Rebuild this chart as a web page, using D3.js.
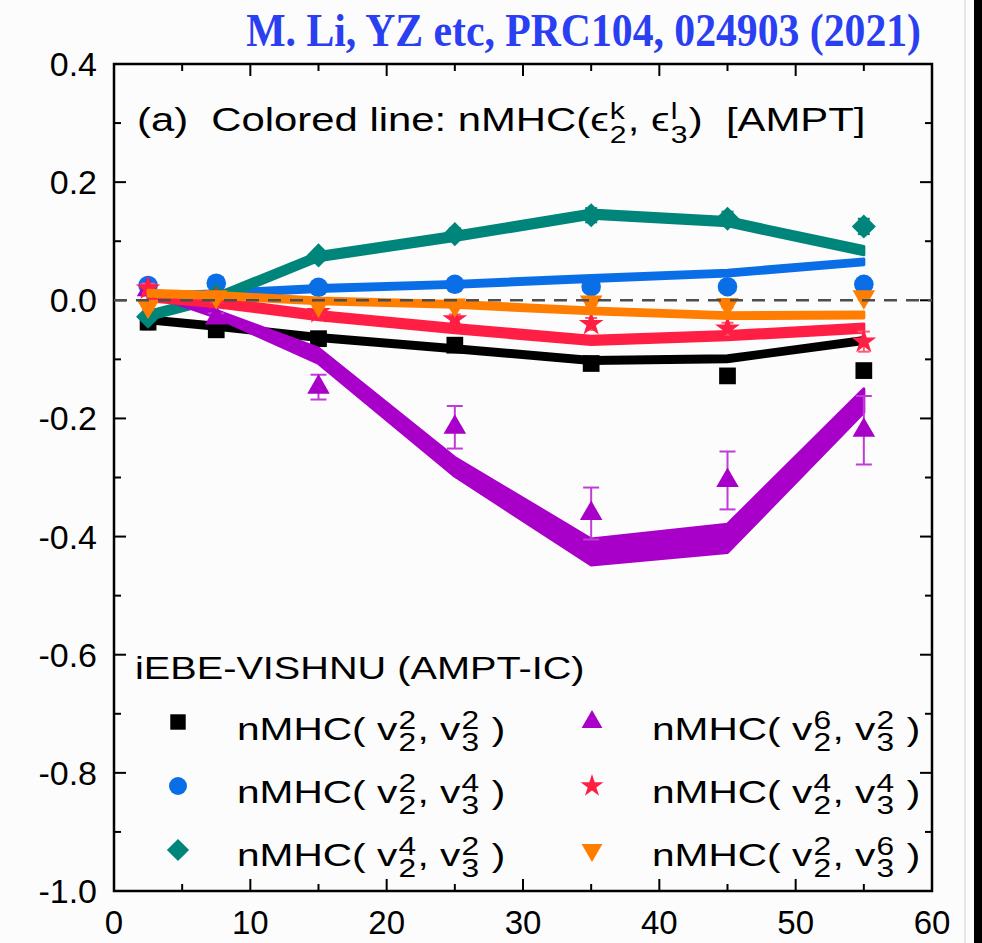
<!DOCTYPE html>
<html>
<head>
<meta charset="utf-8">
<script src="https://cdn.jsdelivr.net/npm/d3@7"></script>
<style>
  body { margin: 0; background: #fcfcfc; }
  text { font-family: "Liberation Sans", Arial, sans-serif; fill: #000; white-space: pre; }
</style>
</head>
<body>
<div id="chart"></div>
<script>
// centrality bins (%)
const centrality = [2.5, 7.5, 15, 25, 35, 45, 55];
const xTickLabels = [0, 10, 20, 30, 40, 50, 60];
const yTickLabels = [0.4, 0.2, 0.0, -0.2, -0.4, -0.6, -0.8, -1.0];

// iEBE-VISHNU points (markers) and errors
const k2l2Pts = [-0.037, -0.05, -0.065, -0.076, -0.107, -0.128, -0.119];
const k2l2Err = [0.012, 0.008, 0.006, 0.006, 0.008, 0.007, 0.006];
const k2l4Pts = [0.025, 0.029, 0.022, 0.027, 0.023, 0.023, 0.027];
const k2l4Err = [0.006, 0.005, 0.005, 0.005, 0.005, 0.005, 0.005];
const k4l2Pts = [-0.028, 0.008, 0.076, 0.112, 0.144, 0.138, 0.125];
const k4l2Err = [0.006, 0.005, 0.008, 0.01, 0.012, 0.012, 0.013];
const k6l2Pts = [0.018, -0.03, -0.147, -0.215, -0.361, -0.305, -0.22];
const k6l2Err = [0.01, 0.008, 0.021, 0.036, 0.044, 0.049, 0.058];
const k4l4Pts = [0.02, 0.002, -0.02, -0.032, -0.04, -0.048, -0.07];
const k4l4Err = [0.008, 0.006, 0.006, 0.008, 0.01, 0.01, 0.017];
const k2l6Pts = [-0.01, 0.006, -0.008, -0.008, -0.003, -0.007, 0.006];
const k2l6Err = [0.006, 0.005, 0.005, 0.005, 0.005, 0.005, 0.005];

// AMPT nMHC(eps2^k, eps3^l) bands (lower, upper)
const k2l2Lo = [-0.038, -0.049, -0.068, -0.087, -0.107, -0.104, -0.073];
const k2l2Hi = [-0.028, -0.039, -0.058, -0.077, -0.097, -0.094, -0.063];
const k2l4Lo = [0.001, 0.006, 0.015, 0.022, 0.032, 0.041, 0.06];
const k2l4Hi = [0.011, 0.016, 0.025, 0.032, 0.042, 0.051, 0.07];
const k4l2Lo = [-0.033, -0.003, 0.067, 0.101, 0.139, 0.126, 0.077];
const k4l2Hi = [-0.019, 0.011, 0.081, 0.115, 0.153, 0.14, 0.091];
const k6l2Lo = [0.011, -0.029, -0.107, -0.298, -0.448, -0.427, -0.19];
const k6l2Hi = [0.019, -0.017, -0.081, -0.266, -0.404, -0.379, -0.15];
const k4l4Lo = [-0.001, -0.011, -0.033, -0.055, -0.075, -0.067, -0.054];
const k4l4Hi = [0.013, 0.003, -0.019, -0.041, -0.061, -0.053, -0.04];
const k2l6Lo = [0.007, 0.003, -0.006, -0.012, -0.023, -0.031, -0.03];
const k2l6Hi = [0.017, 0.013, 0.004, -0.002, -0.013, -0.021, -0.02];

const series = [
  { k: 2, l: 2, pts: k2l2Pts, err: k2l2Err, lo: k2l2Lo, hi: k2l2Hi, color: "#000000", bar: "#000000", shape: "square", col: 0, row: 0 },
  { k: 2, l: 4, pts: k2l4Pts, err: k2l4Err, lo: k2l4Lo, hi: k2l4Hi, color: "#0a6ee6", bar: "#0a6ee6", shape: "circle", col: 0, row: 1 },
  { k: 4, l: 2, pts: k4l2Pts, err: k4l2Err, lo: k4l2Lo, hi: k4l2Hi, color: "#00857a", bar: "#00857a", shape: "diamond", col: 0, row: 2 },
  { k: 6, l: 2, pts: k6l2Pts, err: k6l2Err, lo: k6l2Lo, hi: k6l2Hi, color: "#a800c8", bar: "#c13bd8", shape: "triangle", col: 1, row: 0 },
  { k: 4, l: 4, pts: k4l4Pts, err: k4l4Err, lo: k4l4Lo, hi: k4l4Hi, color: "#ff1f44", bar: "#ff5a72", shape: "star", col: 1, row: 1 },
  { k: 2, l: 6, pts: k2l6Pts, err: k2l6Err, lo: k2l6Lo, hi: k2l6Hi, color: "#ff7d00", bar: "#ff7d00", shape: "down", col: 1, row: 2 },
];

const width = 982;
const height = 943;
const frame = { left: 114, right: 932, top: 64, bottom: 891 };

const xScale = d3.scaleLinear().domain([0, 60]).range([frame.left, frame.right]);
const yScale = d3.scaleLinear().domain([-1.0, 0.4]).range([frame.bottom, frame.top]);

const svg = d3
  .select("#chart")
  .append("svg")
  .attr("width", width)
  .attr("height", height);

svg.append("rect").attr("width", width).attr("height", height).attr("fill", "#fcfcfc");
// right edge of the screenshot
svg.append("line").attr("x1", 965).attr("x2", 965).attr("y1", 0).attr("y2", height)
  .attr("stroke", "#d0d0d0").attr("stroke-width", 1);
svg.append("rect").attr("x", 974).attr("y", 0).attr("width", 8).attr("height", height).attr("fill", "#000");

const symbolFor = (shape, big) => {
  const s = big ? 1 : 0.85;
  if (shape === "square") return { type: d3.symbolSquare, size: 280 * s, rot: 0 };
  if (shape === "circle") return { type: d3.symbolCircle, size: 300 * s, rot: 0 };
  if (shape === "diamond") return { type: d3.symbolSquare, size: 290 * s, rot: 45 };
  if (shape === "triangle") return { type: d3.symbolTriangle, size: 220 * s, rot: 0 };
  if (shape === "star") return { type: d3.symbolStar, size: 190 * s, rot: 0 };
  return { type: d3.symbolTriangle, size: 220 * s, rot: 180 };
};

const drawAxes = () => {
  const g = svg.append("g");
  const minorX = d3.range(0, 61, 5);
  const minorY = d3.range(-10, 5).map((d) => d / 10);
  minorX.forEach((v) => {
    const len = v % 10 === 0 ? 12 : 7;
    g.append("line").attr("x1", xScale(v)).attr("x2", xScale(v))
      .attr("y1", frame.bottom).attr("y2", frame.bottom - len);
    g.append("line").attr("x1", xScale(v)).attr("x2", xScale(v))
      .attr("y1", frame.top).attr("y2", frame.top + len);
  });
  minorY.forEach((v) => {
    const len = Math.round(v * 10) % 2 === 0 ? 12 : 7;
    g.append("line").attr("x1", frame.left).attr("x2", frame.left + len)
      .attr("y1", yScale(v)).attr("y2", yScale(v));
    g.append("line").attr("x1", frame.right).attr("x2", frame.right - len)
      .attr("y1", yScale(v)).attr("y2", yScale(v));
  });
  g.selectAll("line").attr("stroke", "#000").attr("stroke-width", 2);
  g.append("rect")
    .attr("x", frame.left).attr("y", frame.top)
    .attr("width", frame.right - frame.left).attr("height", frame.bottom - frame.top)
    .attr("fill", "none").attr("stroke", "#000").attr("stroke-width", 2.5);

  g.selectAll(".xl").data(xTickLabels).enter().append("text")
    .attr("x", (d) => xScale(d)).attr("y", 934)
    .attr("text-anchor", "middle").attr("font-size", 33)
    .text((d) => d);
  g.selectAll(".yl").data(yTickLabels).enter().append("text")
    .attr("x", 97).attr("y", (d) => yScale(d) + 12)
    .attr("text-anchor", "end").attr("font-size", 34)
    .text((d) => d.toFixed(1));
};

const drawSeries = (s) => {
  const rows = centrality.map((c, i) => ({ c, v: s.pts[i], e: s.err[i], lo: s.lo[i], hi: s.hi[i] }));
  const area = d3.area()
    .x((d) => xScale(d.c))
    .y0((d) => yScale(d.lo))
    .y1((d) => yScale(d.hi));
  const g = svg.append("g");
  g.append("path").datum(rows).attr("d", area)
    .attr("fill", s.color).attr("stroke", s.color)
    .attr("stroke-width", 3).attr("stroke-linejoin", "round");

  const cap = s.shape === "triangle" ? 8 : 6;
  const bars = g.selectAll(".eb").data(rows).enter().append("g")
    .attr("stroke", s.bar).attr("stroke-width", 2);
  bars.append("line")
    .attr("x1", (d) => xScale(d.c)).attr("x2", (d) => xScale(d.c))
    .attr("y1", (d) => yScale(d.v - d.e)).attr("y2", (d) => yScale(d.v + d.e));
  bars.append("line")
    .attr("x1", (d) => xScale(d.c) - cap).attr("x2", (d) => xScale(d.c) + cap)
    .attr("y1", (d) => yScale(d.v - d.e)).attr("y2", (d) => yScale(d.v - d.e));
  bars.append("line")
    .attr("x1", (d) => xScale(d.c) - cap).attr("x2", (d) => xScale(d.c) + cap)
    .attr("y1", (d) => yScale(d.v + d.e)).attr("y2", (d) => yScale(d.v + d.e));

  const sym = symbolFor(s.shape, true);
  g.selectAll(".pt").data(rows).enter().append("path")
    .attr("d", d3.symbol().type(sym.type).size(sym.size))
    .attr("transform", (d) => `translate(${xScale(d.c)},${yScale(d.v)}) rotate(${sym.rot})`)
    .attr("fill", s.color);
};

// text with stacked sub/superscripts
const richText = ({ x, y, size, stretch, parts, ratio = 0.72 }) => {
  const text = svg.append("text")
    .attr("transform", `translate(${x},${y}) scale(${stretch},1)`)
    .attr("font-size", size);
  let back = 0;
  let extra = 0;
  parts.forEach((p) => {
    if (typeof p === "string") {
      text.append("tspan").attr("dy", back).attr("dx", extra).text(p);
      back = 0;
      extra = 0;
      return;
    }
    const small = size * ratio;
    const sup = text.append("tspan").attr("font-size", small)
      .attr("dy", -size * 0.34 + back).attr("dx", extra + 1).text(p.sup);
    const wSup = sup.node().getComputedTextLength();
    const sub = text.append("tspan").attr("font-size", small)
      .attr("dx", -wSup).attr("dy", size * 0.68).text(p.sub);
    const wSub = sub.node().getComputedTextLength();
    back = -size * 0.34;
    extra = Math.max(0, wSup - wSub) + 1;
  });
  return text;
};

const drawLegend = () => {
  richText({ x: 135, y: 679, size: 32, stretch: 1.24, parts: ["iEBE-VISHNU (AMPT-IC)"] });
  const colX = [178, 592];
  const textX = [237, 652];
  const rowY = [722, 786, 850];
  const baseY = [740, 803, 866];
  series.forEach((s) => {
    const sym = symbolFor(s.shape, false);
    svg.append("path")
      .attr("d", d3.symbol().type(sym.type).size(sym.size))
      .attr("transform", `translate(${colX[s.col]},${rowY[s.row]}) rotate(${sym.rot})`)
      .attr("fill", s.color);
    richText({
      x: textX[s.col], y: baseY[s.row], size: 32, stretch: 1.27, ratio: 0.78,
      parts: ["nMHC( v", { sup: String(s.k), sub: "2" }, ", v", { sup: String(s.l), sub: "3" }, " )"],
    });
  });
};

drawAxes();
series.forEach(drawSeries);

// zero reference line
svg.append("line")
  .attr("x1", xScale(0)).attr("x2", xScale(60))
  .attr("y1", yScale(0)).attr("y2", yScale(0))
  .attr("stroke", "#4d4d4d").attr("stroke-width", 2.5)
  .attr("stroke-dasharray", "13,9");

richText({
  x: 137, y: 131, size: 34, stretch: 1.23,
  parts: ["(a)  Colored line: nMHC(\u03f5", { sup: "k", sub: "2" }, ", \u03f5", { sup: "l", sub: "3" }, ")  [AMPT]"],
});

drawLegend();

svg.append("text")
  .attr("transform", "translate(921,46) scale(0.97,1.1)")
  .attr("text-anchor", "end")
  .style("font-family", "'Liberation Serif', 'Times New Roman', serif")
  .style("font-weight", "bold")
  .style("font-size", "43px")
  .style("fill", "#2a3ff2")
  .text("M. Li, YZ etc, PRC104, 024903 (2021)");
</script>
</body>
</html>
